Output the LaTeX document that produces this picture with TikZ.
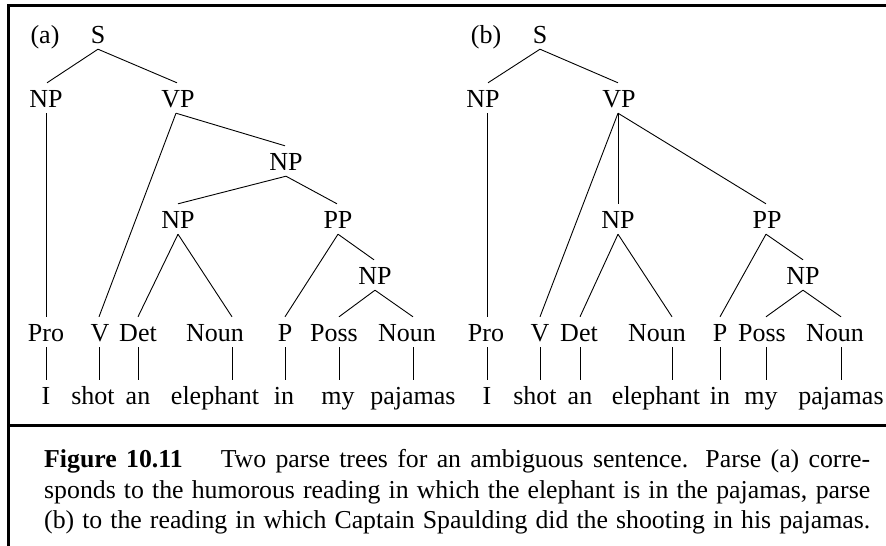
\documentclass[tikz,border=0pt]{standalone}
\usepackage{fontspec}
\setmainfont{Liberation Serif}
\begin{document}
\begin{tikzpicture}[x=1pt,y=-1pt,
  lbl/.style={font=\fontsize{26}{30}\selectfont, inner xsep=0pt, inner ysep=5pt, text height=19pt, text depth=1pt, anchor=base},
  captext/.style={font=\fontsize{25.8}{31}\selectfont, inner sep=0pt, anchor=base west},
  edge/.style={line width=0.9pt},
  framerule/.style={line width=3pt}]
\useasboundingbox (0,0) rectangle (886,546);
% frame
\draw[framerule] (7,5.5) -- (886,5.5);
\draw[framerule] (8.5,4) -- (8.5,546);
\draw[framerule] (7,425) -- (886,425);

% ---------- tree (a) ----------
\node[lbl] (aL) at (45,43) {(a)};
\node[lbl] (aS) at (98,43) {S};
\node[lbl] (aNPa) at (46,107) {NP};
\node[lbl] (aVP) at (178,107) {VP};
\node[lbl] (aNPb) at (286,170) {NP};
\node[lbl] (aNPc) at (178,228) {NP};
\node[lbl] (aPP) at (338,228) {PP};
\node[lbl] (aNPd) at (375,284) {NP};
\node[lbl] (aPro) at (46,341) {Pro};
\node[lbl] (aV) at (100,341) {V};
\node[lbl] (aDet) at (138,341) {Det};
\node[lbl] (aNa) at (215,341) {Noun};
\node[lbl] (aP) at (285,341) {P};
\node[lbl] (aPoss) at (334,341) {Poss};
\node[lbl] (aNb) at (407,341) {Noun};
\node[lbl] (aw1) at (46,404) {I};
\node[lbl] (aw2) at (93,404) {shot};
\node[lbl] (aw3) at (138,404) {an};
\node[lbl] (aw4) at (215,404) {elephant};
\node[lbl] (aw5) at (284,404) {in};
\node[lbl] (aw6) at (338,404) {my};
\node[lbl] (aw7) at (413,404) {pajamas};

\draw[edge] (aS.south) -- ([xshift=1pt]aNPa.north);
\draw[edge] (aS.south) -- ([xshift=-1pt]aVP.north);
\draw[edge] (aNPa.south) -- (aPro.north);
\draw[edge] ([xshift=-2pt]aVP.south) -- ([xshift=-1pt]aV.north);
\draw[edge] ([xshift=-2pt]aVP.south) -- ([xshift=-1pt]aNPb.north);
\draw[edge] (aNPb.south) -- (aNPc.north);
\draw[edge] (aNPb.south) -- ([xshift=-1pt]aPP.north);
\draw[edge] (aNPc.south) -- (aDet.north);
\draw[edge] (aNPc.south) -- ([xshift=17pt]aNa.north);
\draw[edge] (aPP.south) -- (aP.north);
\draw[edge] (aPP.south) -- ([xshift=-1pt]aNPd.north);
\draw[edge] (aNPd.south) -- ([xshift=5pt]aPoss.north);
\draw[edge] (aNPd.south) -- ([xshift=6pt]aNb.north);
\draw[edge] (aPro.south) -- (aw1.north);
\draw[edge] ([xshift=-1pt]aV.south) -- ([xshift=6pt]aw2.north);
\draw[edge] (aDet.south) -- (aw3.north);
\draw[edge] ([xshift=17pt]aNa.south) -- ([xshift=17pt]aw4.north);
\draw[edge] (aP.south) -- ([xshift=1pt]aw5.north);
\draw[edge] ([xshift=5pt]aPoss.south) -- ([xshift=1pt]aw6.north);
\draw[edge] ([xshift=6pt]aNb.south) -- (aw7.north);

% ---------- tree (b) ----------
\node[lbl] (bL) at (486,43) {(b)};
\node[lbl] (bS) at (540,43) {S};
\node[lbl] (bNPa) at (483,107) {NP};
\node[lbl] (bVP) at (619,107) {VP};
\node[lbl] (bNPc) at (618,228) {NP};
\node[lbl] (bPP) at (767,228) {PP};
\node[lbl] (bNPd) at (803,284) {NP};
\node[lbl] (bPro) at (486,341) {Pro};
\node[lbl] (bV) at (540,341) {V};
\node[lbl] (bDet) at (579,341) {Det};
\node[lbl] (bNa) at (657,341) {Noun};
\node[lbl] (bP) at (720,341) {P};
\node[lbl] (bPoss) at (762,341) {Poss};
\node[lbl] (bNb) at (835,341) {Noun};
\node[lbl] (bw1) at (487,404) {I};
\node[lbl] (bw2) at (535,404) {shot};
\node[lbl] (bw3) at (580,404) {an};
\node[lbl] (bw4) at (656,404) {elephant};
\node[lbl] (bw5) at (720,404) {in};
\node[lbl] (bw6) at (761,404) {my};
\node[lbl] (bw7) at (841,404) {pajamas};

\draw[edge] (bS.south) -- ([xshift=5pt]bNPa.north);
\draw[edge] (bS.south) -- ([xshift=-1pt]bVP.north);
\draw[edge] ([xshift=4pt]bNPa.south) -- ([xshift=1pt]bPro.north);
\draw[edge] ([xshift=-1pt]bVP.south) -- (bV.north);
\draw[edge] ([xshift=-1pt]bVP.south) -- (bNPc.north);
\draw[edge] ([xshift=-1pt]bVP.south) -- ([xshift=-1pt]bPP.north);
\draw[edge] (bNPc.south) -- ([xshift=1pt]bDet.north);
\draw[edge] (bNPc.south) -- ([xshift=15pt]bNa.north);
\draw[edge] ([xshift=-1pt]bPP.south) -- (bP.north);
\draw[edge] ([xshift=-1pt]bPP.south) -- (bNPd.north);
\draw[edge] (bNPd.south) -- ([xshift=4pt]bPoss.north);
\draw[edge] (bNPd.south) -- ([xshift=6pt]bNb.north);
\draw[edge] ([xshift=1pt]bPro.south) -- (bw1.north);
\draw[edge] (bV.south) -- ([xshift=5pt]bw2.north);
\draw[edge] ([xshift=1pt]bDet.south) -- (bw3.north);
\draw[edge] ([xshift=15pt]bNa.south) -- ([xshift=16pt]bw4.north);
\draw[edge] (bP.south) -- (bw5.north);
\draw[edge] ([xshift=4pt]bPoss.south) -- ([xshift=5pt]bw6.north);
\draw[edge] ([xshift=6pt]bNb.south) -- (bw7.north);

% ---------- caption ----------
\node[captext] (c1) at (44,467) {\makebox[826pt][s]{\textbf{Figure 10.11}\hspace{38pt}Two parse trees for an ambiguous sentence. Parse (a) corre-}};
\node[captext] (c2) at (44,498) {\makebox[826pt][s]{sponds to the humorous reading in which the elephant is in the pajamas, parse}};
\node[captext] (c3) at (44,528) {\makebox[826pt][s]{(b) to the reading in which Captain Spaulding did the shooting in his pajamas.}};
\end{tikzpicture}
\end{document}
